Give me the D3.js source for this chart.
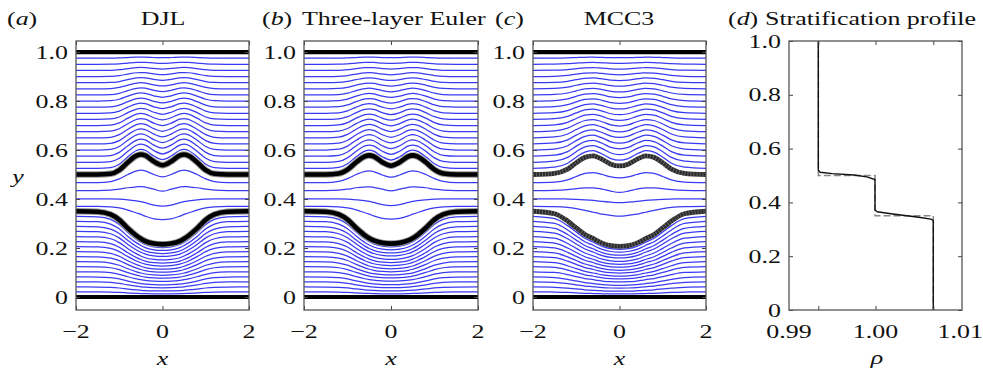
<!DOCTYPE html>
<html>
<head>
<meta charset="UTF-8">
<script src="https://cdn.jsdelivr.net/npm/d3@7"></script>
<style>
  body { margin: 0; background: #fff; }
  text { font-family: "Liberation Serif", "Times New Roman", serif; fill: #111; }
</style>
</head>
<body>
<svg width="983" height="374"></svg>
<script>
// sample x positions (half domain, mirrored about x = 0)
var xsHalf = [0, 0.2, 0.4, 0.5, 0.6, 0.8, 1.0, 1.2, 1.5, 2.0];

// interface heights
var djlUpper = [0.538, 0.553, 0.578, 0.582, 0.577, 0.55, 0.518, 0.503, 0.5, 0.5];
var djlLower = [0.215, 0.218, 0.228, 0.238, 0.25, 0.28, 0.315, 0.337, 0.348, 0.35];
var eulerUpper = [0.536, 0.55, 0.574, 0.578, 0.574, 0.55, 0.52, 0.504, 0.5, 0.5];
var eulerLower = [0.218, 0.221, 0.231, 0.24, 0.252, 0.282, 0.316, 0.337, 0.348, 0.35];
var mccUpper = [0.535, 0.542, 0.562, 0.57, 0.576, 0.57, 0.548, 0.522, 0.505, 0.5];
var mccLower = [0.207, 0.21, 0.22, 0.228, 0.238, 0.255, 0.282, 0.31, 0.34, 0.35];

// streamlines inside the middle layer
var djlMiddle = [
  [0.49, 0.50, 0.515, 0.518, 0.515, 0.5, 0.482, 0.471, 0.467, 0.467],
  [0.432, 0.44, 0.449, 0.451, 0.45, 0.446, 0.44, 0.436, 0.434, 0.434],
  [0.371, 0.375, 0.385, 0.389, 0.392, 0.397, 0.4, 0.401, 0.401, 0.401],
  [0.316, 0.319, 0.33, 0.337, 0.343, 0.355, 0.364, 0.368, 0.37, 0.37]
];
var eulerMiddle = [
  [0.489, 0.498, 0.512, 0.515, 0.513, 0.5, 0.483, 0.472, 0.467, 0.467],
  [0.433, 0.44, 0.448, 0.45, 0.449, 0.446, 0.44, 0.436, 0.434, 0.434],
  [0.373, 0.377, 0.386, 0.39, 0.393, 0.397, 0.4, 0.401, 0.401, 0.401],
  [0.318, 0.321, 0.331, 0.338, 0.344, 0.356, 0.364, 0.368, 0.37, 0.37]
];
var mccMiddle = [
  [0.486, 0.49, 0.5, 0.505, 0.508, 0.505, 0.492, 0.478, 0.469, 0.467],
  [0.427, 0.432, 0.44, 0.443, 0.445, 0.445, 0.442, 0.438, 0.435, 0.434],
  [0.385, 0.387, 0.39, 0.392, 0.394, 0.397, 0.399, 0.4, 0.401, 0.401],
  [0.33, 0.333, 0.338, 0.342, 0.346, 0.354, 0.361, 0.366, 0.369, 0.37]
];

// upper and lower layer streamlines: upstream level and share of interface displacement
var upperLevels = [0.525, 0.55, 0.575, 0.6, 0.625, 0.65, 0.675, 0.7, 0.725, 0.75, 0.775, 0.8, 0.825, 0.85, 0.875, 0.9, 0.925, 0.95, 0.975];
var upperGain = [0.95, 0.9, 0.85, 0.8, 0.75, 0.7, 0.65, 0.6, 0.55, 0.5, 0.45, 0.4, 0.35, 0.3, 0.25, 0.2, 0.15, 0.1, 0.05];
var lowerLevels = [0.021, 0.041, 0.062, 0.082, 0.103, 0.124, 0.144, 0.165, 0.185, 0.206, 0.226, 0.247, 0.268, 0.288, 0.309, 0.329];
var lowerGain = [0.06, 0.12, 0.18, 0.24, 0.29, 0.35, 0.41, 0.47, 0.53, 0.59, 0.65, 0.71, 0.76, 0.82, 0.88, 0.94];

// stratification profile (d)
var rhoSolid = [0.99339, 0.99339, 0.9936, 0.995, 0.9975, 0.999, 0.99994, 0.99994, 1.0002, 1.002, 1.005, 1.0064, 1.00668, 1.00668];
var ySolid = [1.0, 0.52, 0.512, 0.507, 0.502, 0.495, 0.485, 0.372, 0.365, 0.357, 0.345, 0.338, 0.333, 0];
var rhoStep = [0.99339, 0.99339, 0.99994, 0.99994, 1.00668, 1.00668];
var yStep = [1.0, 0.5, 0.5, 0.35, 0.35, 0];

var xTicks = [-2, 0, 2];
var xTickLabels = ['\u22122', '0', '2'];
var yTicks = [0, 0.2, 0.4, 0.6, 0.8, 1.0];
var yTickLabels = ['0', '0.2', '0.4', '0.6', '0.8', '1.0'];
var rhoTicks = [0.99339, 1.0, 1.00668];
var rhoLabelVals = [0.99, 1.00, 1.0098];
var rhoLabels = ['0.99', '1.00', '1.01'];

var SX = 1.33, FS = 19.5;
var svg = d3.select('svg');
var plotTop = 41, plotBottom = 310;

function txt(g, x, y, parts, anchor) {
  var t = g.append('text')
    .attr('transform', 'translate(' + x + ',' + y + ') scale(' + SX + ',1)')
    .attr('text-anchor', anchor || 'start')
    .style('font-size', FS + 'px');
  parts.forEach(function (p) {
    t.append('tspan').text(p[0]).style('font-style', p[1] ? 'italic' : 'normal');
  });
  return t;
}

function mirrored(vals) {
  var pts = [];
  for (var i = xsHalf.length - 1; i > 0; i--) pts.push([-xsHalf[i], vals[i]]);
  for (var j = 0; j < xsHalf.length; j++) pts.push([xsHalf[j], vals[j]]);
  return pts;
}

function frameAxes(g, x, y, xt, yt, xl, yl, xlVals) {
  var x0 = x.range()[0], x1 = x.range()[1];
  g.append('g').attr('transform', 'translate(' + x0 + ',0)')
    .call(d3.axisLeft(y).tickValues(yt).tickSizeInner(-4).tickSizeOuter(0).tickFormat(''));
  g.append('g').attr('transform', 'translate(' + x1 + ',0)')
    .call(d3.axisRight(y).tickValues(yt).tickSizeInner(-4).tickSizeOuter(0).tickFormat(''));
  g.append('g').attr('transform', 'translate(0,' + plotBottom + ')')
    .call(d3.axisBottom(x).tickValues(xt).tickSizeInner(-4).tickSizeOuter(0).tickFormat(''));
  g.append('g').attr('transform', 'translate(0,' + plotTop + ')')
    .call(d3.axisTop(x).tickValues(xt).tickSizeInner(-4).tickSizeOuter(0).tickFormat(''));
  g.selectAll('.domain').remove();
  g.selectAll('.tick text').remove();
  g.selectAll('.tick line').attr('stroke', '#444').attr('stroke-width', 1);
  g.append('rect').attr('x', x0).attr('y', plotTop).attr('width', x1 - x0).attr('height', plotBottom - plotTop)
    .attr('fill', 'none').attr('stroke', '#555').attr('stroke-width', 1.3);
  yt.forEach(function (v, i) {
    txt(g, x0 - 8, y(v) + 6.6, [[yl[i], false]], 'end');
  });
  (xlVals || xt).forEach(function (v, i) {
    txt(g, x(v), 338, [[xl[i], false]], 'middle');
  });
}

function streamPanel(id, left, right, upper, lower, middle, grainy) {
  var x = d3.scaleLinear().domain([-2, 2]).range([left, right]);
  var y = d3.scaleLinear().domain([-0.053, 1.045]).range([plotBottom, plotTop]);
  var g = svg.append('g');
  g.append('clipPath').attr('id', 'clip' + id).append('rect')
    .attr('x', left).attr('y', plotTop).attr('width', right - left).attr('height', plotBottom - plotTop);
  var plot = g.append('g').attr('clip-path', 'url(#clip' + id + ')');
  var line = d3.line().x(function (d) { return x(d[0]); }).y(function (d) { return y(d[1]); })
    .curve(d3.curveMonotoneX);

  var blue = [];
  upperLevels.forEach(function (lv, i) {
    blue.push(upper.map(function (u) { return lv + upperGain[i] * (u - 0.5); }));
  });
  lowerLevels.forEach(function (lv, i) {
    blue.push(lower.map(function (l) { return lv + lowerGain[i] * (l - 0.35); }));
  });
  middle.forEach(function (m) { blue.push(m); });

  plot.selectAll('.stream').data(blue).enter().append('path')
    .attr('d', function (d) { return line(mirrored(d)); })
    .attr('fill', 'none').attr('stroke', '#3a3af2').attr('stroke-width', 1.25);

  var flatTop = upper.map(function () { return 1.0; });
  var flatBottom = upper.map(function () { return 0; });
  plot.selectAll('.wall').data([flatTop, flatBottom]).enter().append('path')
    .attr('d', function (d) { return line(mirrored(d)); })
    .attr('fill', 'none').attr('stroke', '#000').attr('stroke-width', 4.2);

  if (grainy) {
    plot.selectAll('.iface').data([upper, lower]).enter().append('path')
      .attr('d', function (d) { return line(mirrored(d)); })
      .attr('fill', 'none').attr('stroke', '#1a1a1a').attr('stroke-width', 4.8).attr('opacity', 0.92);
    plot.selectAll('.grain').data([upper, lower]).enter().append('path')
      .attr('d', function (d) { return line(mirrored(d)); })
      .attr('fill', 'none').attr('stroke', '#fff').attr('stroke-width', 4.8)
      .attr('stroke-dasharray', '0.7,2.3').attr('opacity', 0.35);
  } else {
    plot.selectAll('.halo').data([upper, lower]).enter().append('path')
      .attr('d', function (d) { return line(mirrored(d)); })
      .attr('fill', 'none').attr('stroke', '#999').attr('stroke-width', 6.5);
    plot.selectAll('.iface').data([upper, lower]).enter().append('path')
      .attr('d', function (d) { return line(mirrored(d)); })
      .attr('fill', 'none').attr('stroke', '#000').attr('stroke-width', 4.6);
  }
  frameAxes(g, x, y, xTicks, yTicks, xTickLabels, yTickLabels);
  txt(g, (left + right) / 2, 365, [['x', true]], 'middle');
}

streamPanel('a', 76, 249, djlUpper, djlLower, djlMiddle, false);
streamPanel('b', 304, 478, eulerUpper, eulerLower, eulerMiddle, false);
streamPanel('c', 533, 706, mccUpper, mccLower, mccMiddle, true);

// panel d
(function () {
  var x = d3.scaleLinear().domain([0.99, 1.01]).range([789, 962]);
  var y = d3.scaleLinear().domain([0, 1]).range([plotBottom, plotTop]);
  var g = svg.append('g');
  var line = d3.line().x(function (d) { return x(d[0]); }).y(function (d) { return y(d[1]); });
  g.append('path').attr('d', line(rhoStep.map(function (r, i) { return [r, yStep[i]]; })))
    .attr('fill', 'none').attr('stroke', '#888').attr('stroke-width', 1.5).attr('stroke-dasharray', '7,3');
  g.append('path').attr('d', line(rhoSolid.map(function (r, i) { return [r, ySolid[i]]; })))
    .attr('fill', 'none').attr('stroke', '#111').attr('stroke-width', 1.4);
  frameAxes(g, x, y, rhoTicks, yTicks, rhoLabels, yTickLabels, rhoLabelVals);
  txt(g, 877, 364, [['\u03c1', true]], 'middle');
})();

// titles
txt(svg, 7, 25, [['(', false], ['a', true], [')', false]]);
txt(svg, 163, 25, [['DJL', false]], 'middle');
txt(svg, 262, 25, [['(', false], ['b', true], [')', false]]);
txt(svg, 302, 25, [['Three-layer Euler', false]]);
txt(svg, 495, 25, [['(', false], ['c', true], [')', false]]);
txt(svg, 619, 25, [['MCC3', false]], 'middle');
txt(svg, 728, 25, [['(', false], ['d', true], [')', false]]);
txt(svg, 765, 25, [['Stratification profile', false]]);
txt(svg, 18, 183, [['y', true]], 'middle');
</script>
</body>
</html>
